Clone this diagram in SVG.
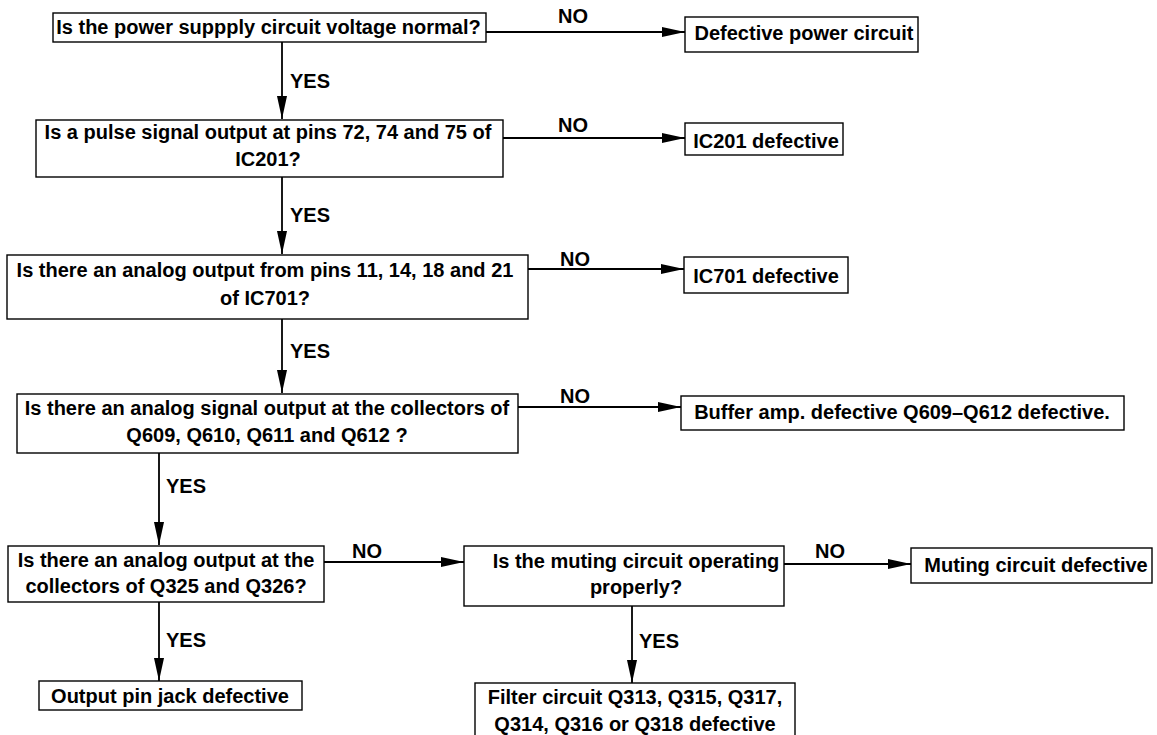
<svg xmlns="http://www.w3.org/2000/svg" width="1157" height="735" viewBox="0 0 1157 735">
<style>
.box{fill:#fff;stroke:#000;stroke-width:1.4}
.t{font-family:"Liberation Sans",Arial,sans-serif;font-weight:bold;font-size:20px;fill:#000;text-anchor:middle}
.l{font-family:"Liberation Sans",Arial,sans-serif;font-weight:bold;font-size:20px;fill:#000}
.c{stroke:#000;stroke-width:1.8;fill:none;marker-end:url(#ah)}
</style>
<defs>
<marker id="ah" markerUnits="userSpaceOnUse" markerWidth="23" markerHeight="10" refX="23" refY="5" orient="auto">
<path d="M0,0 L23,5 L0,10 Z" fill="#000"/>
</marker>
</defs>
<rect width="1157" height="735" fill="#fff"/>
<g id="connectors">
<line class="c" x1="486" y1="32" x2="685" y2="32"/>
<line class="c" x1="282" y1="42" x2="282" y2="119"/>
<line class="c" x1="503" y1="138" x2="685" y2="138"/>
<line class="c" x1="282" y1="177" x2="282" y2="254"/>
<line class="c" x1="528" y1="269" x2="684" y2="269"/>
<line class="c" x1="282" y1="319" x2="282" y2="393"/>
<line class="c" x1="518" y1="407" x2="681" y2="407"/>
<line class="c" x1="159" y1="453" x2="159" y2="545"/>
<line class="c" x1="324" y1="562" x2="464" y2="562"/>
<line class="c" x1="784" y1="564" x2="911" y2="564"/>
<line class="c" x1="159" y1="602" x2="159" y2="681"/>
<line class="c" x1="632" y1="606" x2="632" y2="683"/>
<text class="l" x="558" y="23">NO</text>
<text class="l" x="290" y="88">YES</text>
<text class="l" x="558" y="132">NO</text>
<text class="l" x="290" y="222">YES</text>
<text class="l" x="560" y="266">NO</text>
<text class="l" x="290" y="358">YES</text>
<text class="l" x="560" y="403">NO</text>
<text class="l" x="166" y="493">YES</text>
<text class="l" x="352" y="558">NO</text>
<text class="l" x="815" y="558">NO</text>
<text class="l" x="166" y="647">YES</text>
<text class="l" x="639" y="648">YES</text>
</g>
<g id="q1"><rect class="box" x="53" y="13" width="433" height="29"/><text class="t" x="268.5" y="34">Is the power suppply circuit voltage normal?</text></g>
<g id="r1"><rect class="box" x="685" y="17" width="233" height="35"/><text class="t" x="804" y="40">Defective power circuit</text></g>
<g id="q2"><rect class="box" x="36" y="120" width="467" height="57"/><text class="t" x="268" y="139">Is a pulse signal output at pins 72, 74 and 75 of</text><text class="t" x="268" y="166">IC201?</text></g>
<g id="r2"><rect class="box" x="685" y="123" width="158" height="32"/><text class="t" x="766" y="148">IC201 defective</text></g>
<g id="q3"><rect class="box" x="7" y="255" width="521" height="64"/><text class="t" x="265" y="277">Is there an analog output from pins 11, 14, 18 and 21</text><text class="t" x="265" y="305">of IC701?</text></g>
<g id="r3"><rect class="box" x="684" y="257" width="164" height="36"/><text class="t" x="766" y="283">IC701 defective</text></g>
<g id="q4"><rect class="box" x="17" y="394" width="501" height="59"/><text class="t" x="267" y="415">Is there an analog signal output at the collectors of</text><text class="t" x="267" y="442">Q609, Q610, Q611 and Q612 ?</text></g>
<g id="r4"><rect class="box" x="681" y="396" width="443" height="34"/><text class="t" x="902" y="419">Buffer amp. defective Q609–Q612 defective.</text></g>
<g id="q5"><rect class="box" x="8" y="546" width="316" height="56"/><text class="t" x="166" y="567">Is there an analog output at the</text><text class="t" x="166" y="593">collectors of Q325 and Q326?</text></g>
<g id="q6"><rect class="box" x="464" y="546" width="320" height="60"/><text class="t" x="636" y="568">Is the muting circuit operating</text><text class="t" x="636" y="594">properly?</text></g>
<g id="r6"><rect class="box" x="911" y="548" width="241" height="35"/><text class="t" x="1036" y="572">Muting circuit defective</text></g>
<g id="r5"><rect class="box" x="39" y="681" width="263" height="29"/><text class="t" x="170" y="703">Output pin jack defective</text></g>
<g id="r7"><rect class="box" x="475" y="683" width="320" height="62"/><text class="t" x="635" y="704">Filter circuit Q313, Q315, Q317,</text><text class="t" x="635" y="731">Q314, Q316 or Q318 defective</text></g>
</svg>
